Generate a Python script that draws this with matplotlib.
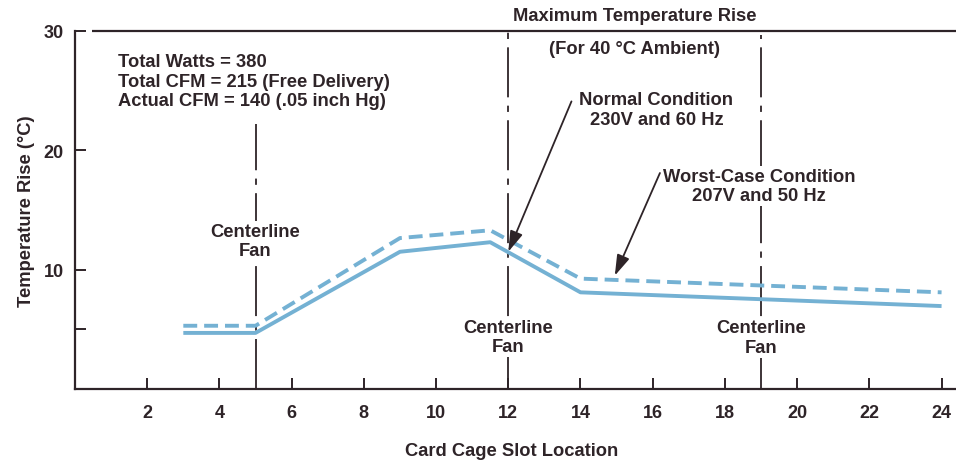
import matplotlib
matplotlib.use("Agg")
import matplotlib.pyplot as plt

plt.rcParams['font.family'] = ['Liberation Sans', 'DejaVu Sans']
plt.rcParams['font.weight'] = 'bold'
plt.rcParams['axes.labelweight'] = 'bold'
plt.rcParams['lines.scale_dashes'] = False

# Data
normal_x = [3, 5, 9, 11.5, 14, 24]
normal_y = [4.7, 4.7, 11.5, 12.3, 8.1, 6.95]
worst_x = [3, 5, 9, 11.5, 14, 24]
worst_y = [5.3, 5.3, 12.65, 13.3, 9.25, 8.1]
fan_slots = [5, 12, 19]
x_ticks = list(range(2, 25, 2))
y_ticks = [5, 10, 20, 30]
y_tick_labels = ['', '10', '20', '30']

blue = '#74b1d3'
ink = '#2e2428'
fs = 13.2

fig = plt.figure(figsize=(9.56, 4.64), dpi=100)
ax = fig.add_axes([75/956, 1-390/464, (956-75)/956, (390-32)/464])
ax.set_xlim(0, 24.4)
ax.set_ylim(0, 30)

for s in ['top', 'right']:
    ax.spines[s].set_visible(False)
for s in ['left', 'bottom']:
    ax.spines[s].set_color(ink)
    ax.spines[s].set_linewidth(1.6)

ax.set_xticks(x_ticks)
ax.set_yticks(y_ticks)
ax.set_yticklabels(y_tick_labels)
ax.tick_params(direction='in', length=8, width=1.4, color=ink, labelcolor=ink,
               labelsize=13)
ax.tick_params(axis='x', pad=11)
ax.tick_params(axis='y', pad=8)

# top frame line
ax.hlines(30, 0.47, 24.4, color=ink, lw=1.6, clip_on=False)

# fan centerlines
fan_tops = [22.2, 30, 29.7]
for xs, top in zip(fan_slots, fan_tops):
    ln, = ax.plot([xs, xs], [0, top], color=ink, lw=1.3, zorder=2)
    ln.set_dashes([36, 6, 4.5, 6])

# data lines
ax.plot(normal_x, normal_y, color=blue, lw=2.8, solid_capstyle='butt', zorder=3)
lw_, = ax.plot(worst_x, worst_y, color=blue, lw=2.8, zorder=3)
lw_.set_dashes([10, 5])

bb = dict(facecolor='white', edgecolor='none', pad=1.5)

# centerline labels
ax.text(5, 12.4, 'Centerline\nFan', ha='center', va='center', fontsize=fs,
        color=ink, linespacing=1.2, bbox=bb, zorder=4)
ax.text(12, 4.36, 'Centerline\nFan', ha='center', va='center', fontsize=fs,
        color=ink, linespacing=1.2, bbox=bb, zorder=4)
ax.text(19, 4.3, 'Centerline\nFan', ha='center', va='center', fontsize=fs,
        color=ink, linespacing=1.2, bbox=bb, zorder=4)

ax.text(1.2, 25.8, 'Total Watts = 380\nTotal CFM = 215 (Free Delivery)\nActual CFM = 140 (.05 inch Hg)',
        ha='left', va='center', fontsize=fs, color=ink, linespacing=1.2)

ax.text(15.5, 31.26, 'Maximum Temperature Rise', ha='center', va='center',
        fontsize=fs, color=ink, clip_on=False)
ax.text(15.5, 28.5, '(For 40 °C Ambient)', ha='center', va='center',
        fontsize=fs, color=ink)

ax.text(16.1, 23.4, 'Normal Condition\n230V and 60 Hz', ha='center', va='center',
        fontsize=fs, color=ink, linespacing=1.2, bbox=bb, zorder=4)
ax.text(18.95, 17.0, 'Worst-Case Condition\n207V and 50 Hz', ha='center', va='center',
        fontsize=fs, color=ink, linespacing=1.2, bbox=bb, zorder=4)

ax.annotate('', xy=(12.0, 11.5), xytext=(13.75, 24.1),
            arrowprops=dict(arrowstyle='-|>,head_length=0.7,head_width=0.22',
                            color=ink, lw=1.3,
                            mutation_scale=18, shrinkA=0, shrinkB=0), zorder=5)
ax.annotate('', xy=(14.95, 9.5), xytext=(16.2, 18.1),
            arrowprops=dict(arrowstyle='-|>,head_length=0.7,head_width=0.22',
                            color=ink, lw=1.3,
                            mutation_scale=18, shrinkA=0, shrinkB=0), zorder=5)

ax.set_xlabel('Card Cage Slot Location', fontsize=fs, color=ink)
ax.xaxis.set_label_coords((512-75)/(956-75), -(443-390)/358)
ax.set_ylabel('Temperature Rise (°C)', fontsize=fs, color=ink)
ax.yaxis.set_label_coords(-(75-35)/881, 0.5)

fig.savefig('out.png', dpi=100)
